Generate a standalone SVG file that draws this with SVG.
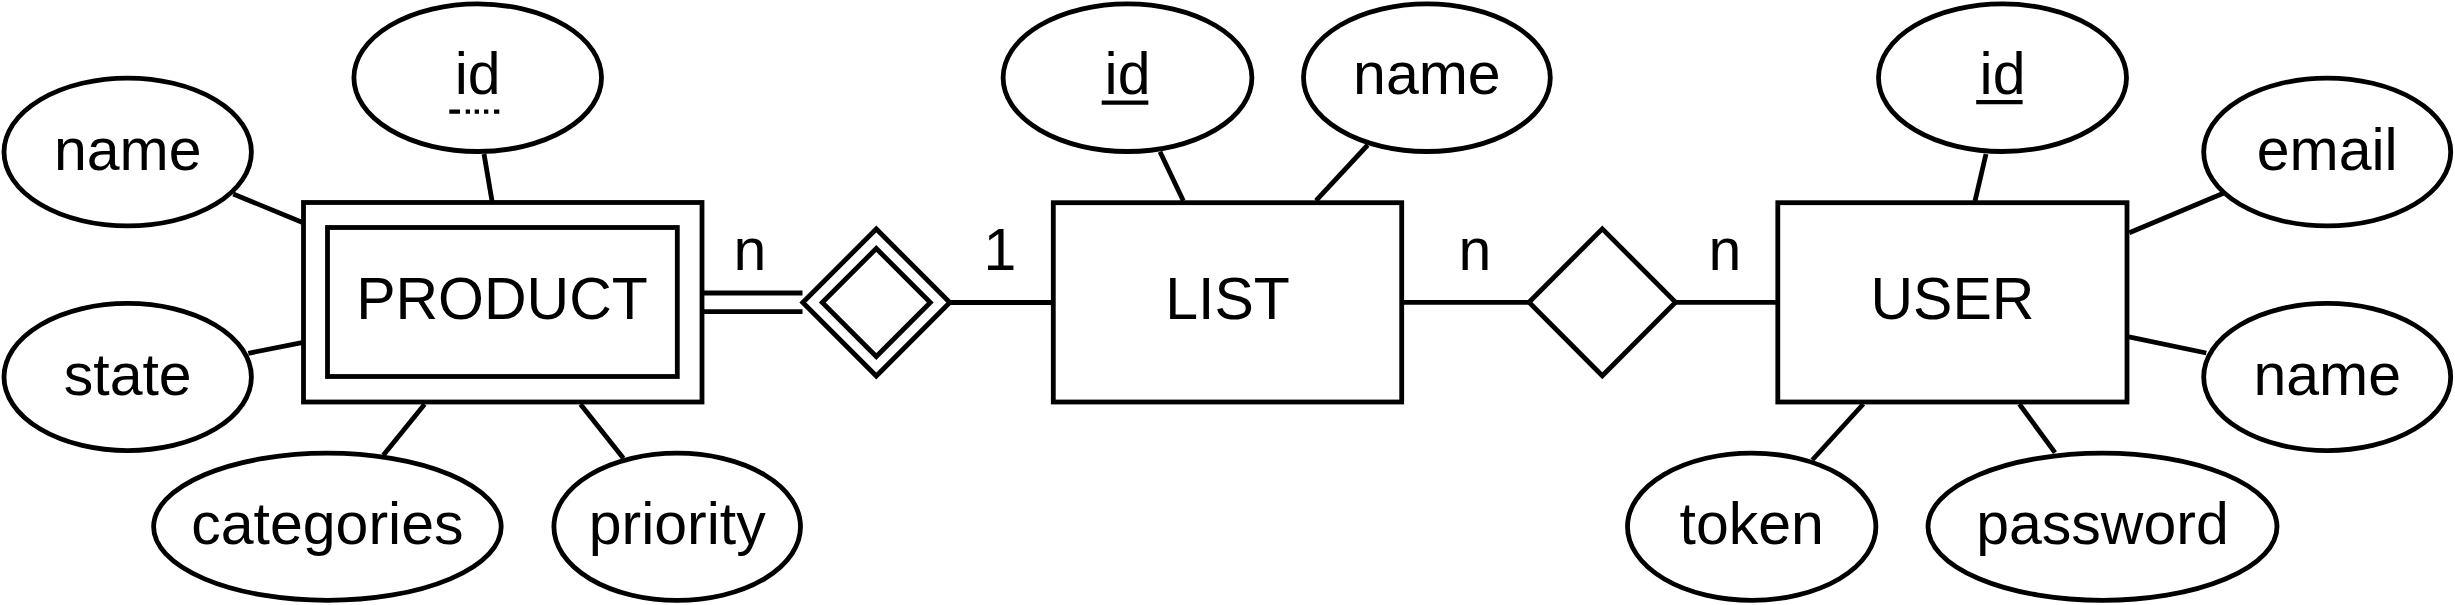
<svg xmlns="http://www.w3.org/2000/svg" width="2455" height="605" viewBox="0 0 2455 605">
<style>
.s{fill:#fff;stroke:#000;stroke-width:4.8}
.l{fill:none;stroke:#000;stroke-width:4.8}
text{font-family:"Liberation Sans",Arial,Helvetica,sans-serif;font-size:59px;fill:#000;text-anchor:middle}
.u{stroke:#000;stroke-width:4.3}
</style>
<rect width="2455" height="605" fill="#fff"/>
<g id="connectors">
<line class="l" x1="484" y1="154" x2="492" y2="201"/>
<line class="l" x1="233.3" y1="194" x2="302" y2="222.3"/>
<line class="l" x1="248.3" y1="353.3" x2="302" y2="342.7"/>
<line class="l" x1="424.6" y1="404.3" x2="383.3" y2="455.3"/>
<line class="l" x1="580.5" y1="404.3" x2="623.4" y2="458.3"/>
<line class="l" x1="702" y1="293" x2="802.5" y2="293"/>
<line class="l" x1="702" y1="311.7" x2="802.5" y2="311.7"/>
<line class="l" x1="949.8" y1="302.5" x2="1053" y2="302.5"/>
<line class="l" x1="1160" y1="151.7" x2="1183.3" y2="200.7"/>
<line class="l" x1="1367.7" y1="145" x2="1316" y2="200.7"/>
<line class="l" x1="1402" y1="302.3" x2="1529" y2="302.3"/>
<line class="l" x1="1676" y1="302.3" x2="1778" y2="302.3"/>
<line class="l" x1="1986" y1="154" x2="1975" y2="201"/>
<line class="l" x1="2223.3" y1="193.3" x2="2129.3" y2="232.7"/>
<line class="l" x1="2206.3" y1="353" x2="2128.9" y2="336.8"/>
<line class="l" x1="1863.3" y1="404" x2="1812.3" y2="460"/>
<line class="l" x1="2019.3" y1="404" x2="2055" y2="452.7"/>
<text x="750" y="270">n</text>
<text x="1000" y="270">1</text>
<text x="1475" y="270">n</text>
<text x="1725" y="270">n</text>
</g>
<g id="product">
<rect class="s" x="303.5" y="202.5" width="398.5" height="199.5"/>
<rect class="s" x="327.5" y="227.5" width="349.8" height="149"/>
<text x="502" y="319.3">PRODUCT</text>
</g>
<g id="product-id">
<ellipse class="s" cx="477.7" cy="77.7" rx="123.8" ry="73.8"/>
<text x="477.7" y="94">id</text>
<line class="u" x1="449.3" y1="111.7" x2="499.3" y2="111.7" stroke-width="4.7" stroke-dasharray="10.7 5.7 4.3 4.7 4.3 5 4.3 5.7 5.3"/>
</g>
<g id="product-name">
<ellipse class="s" cx="127.7" cy="152" rx="123.7" ry="73.9"/>
<text x="127.7" y="170">name</text>
</g>
<g id="product-state">
<ellipse class="s" cx="127.7" cy="377" rx="123.7" ry="73.6"/>
<text x="127.7" y="394.5">state</text>
</g>
<g id="product-categories">
<ellipse class="s" cx="327.4" cy="526.8" rx="173.8" ry="73.6"/>
<text x="327.4" y="544.3">categories</text>
</g>
<g id="product-priority">
<ellipse class="s" cx="677.2" cy="526.8" rx="123.3" ry="73.6"/>
<text x="677.2" y="544.3">priority</text>
</g>
<g id="contains">
<polygon class="s" points="802.8,302.5 876.3,229 949.8,302.5 876.3,376"/>
<polygon class="s" points="822.3,302.5 876.3,248.5 930.3,302.5 876.3,356.5"/>
</g>
<g id="list">
<rect class="s" x="1053.3" y="202.7" width="348.4" height="199.3"/>
<text x="1227.5" y="319.3">LIST</text>
</g>
<g id="list-id">
<ellipse class="s" cx="1127.5" cy="77.7" rx="124.4" ry="73.8"/>
<text x="1127.5" y="94">id</text>
<line class="u" x1="1101.7" y1="102.7" x2="1148.3" y2="102.7"/>
</g>
<g id="list-name">
<ellipse class="s" cx="1426.9" cy="77.7" rx="123.4" ry="73.8"/>
<text x="1426.9" y="94">name</text>
</g>
<g id="shares">
<polygon class="s" points="1529,302.3 1602.3,228.8 1675.6,302.3 1602.3,375.8"/>
</g>
<g id="user">
<rect class="s" x="1777.8" y="202.7" width="349.2" height="199.3"/>
<text x="1952.4" y="319.3">USER</text>
</g>
<g id="user-id">
<ellipse class="s" cx="2002.5" cy="77.7" rx="124" ry="73.8"/>
<text x="2002.5" y="94">id</text>
<line class="u" x1="1976.2" y1="102.2" x2="2022.6" y2="102.2"/>
</g>
<g id="user-email">
<ellipse class="s" cx="2327.2" cy="152" rx="123.5" ry="73.9"/>
<text x="2327.2" y="170">email</text>
</g>
<g id="user-name">
<ellipse class="s" cx="2327.2" cy="377" rx="123.5" ry="73.6"/>
<text x="2327.2" y="394.5">name</text>
</g>
<g id="user-token">
<ellipse class="s" cx="1751.7" cy="526.7" rx="124.2" ry="73.6"/>
<text x="1751.7" y="544.3">token</text>
</g>
<g id="user-password">
<ellipse class="s" cx="2102.5" cy="526.7" rx="174.5" ry="73.6"/>
<text x="2102.5" y="544.3">password</text>
</g>
</svg>
